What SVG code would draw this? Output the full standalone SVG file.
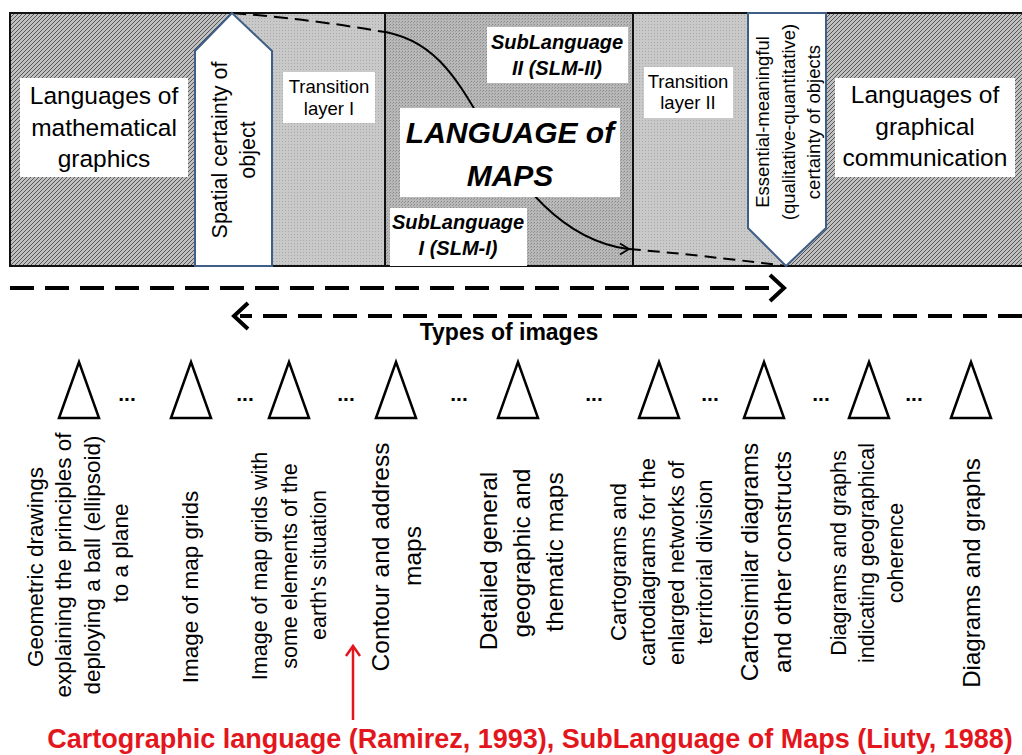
<svg xmlns="http://www.w3.org/2000/svg" width="1022" height="755" viewBox="0 0 1022 755">
  <defs>
    <!-- dense diagonal hatching for the outer language fields -->
    <pattern id="hatchDark" width="4" height="4" patternUnits="userSpaceOnUse">
      <rect width="4" height="4" fill="#c0c0c0"/>
      <path d="M-1,1 L1,-1 M0,4 L4,0 M3,5 L5,3" stroke="#505050" stroke-width="0.95"/>
    </pattern>
    <!-- fine stipple for the transition layers -->
    <pattern id="dotsLight" width="3" height="3" patternUnits="userSpaceOnUse">
      <rect width="3" height="3" fill="#c9c9c9"/>
      <rect width="1" height="1" fill="#a9a9a9"/>
    </pattern>
    <!-- slightly darker stipple for the map-language core -->
    <pattern id="dotsMid" width="3" height="3" patternUnits="userSpaceOnUse">
      <rect width="3" height="3" fill="#b8b8b8"/>
      <rect width="1" height="1" fill="#8a8a8a"/>
      <rect x="2" y="1" width="1" height="1" fill="#9c9c9c"/>
    </pattern>
    <style>
      .box { fill: #fff; }
      .t { font-family: "Liberation Sans", Arial, sans-serif; fill: #000; text-anchor: middle; }
      .bi { font-weight: bold; font-style: italic; }
      .b { font-weight: bold; }
      .shape { fill: #fff; stroke: #3f5f88; stroke-width: 2; }
      .tri { fill: #fff; stroke: #000; stroke-width: 2.5; stroke-linejoin: miter; }
      .big { stroke: #000; stroke-width: 4; fill: none; }
      .red { fill: #e3161e; }
    </style>
  </defs>

  <!-- band of languages -->
  <g id="band">
    <rect x="10" y="13" width="222" height="253" fill="url(#hatchDark)"/>
    <rect x="232" y="13" width="153" height="253" fill="url(#dotsLight)"/>
    <rect x="385" y="13" width="248" height="253" fill="url(#dotsMid)"/>
    <rect x="633" y="13" width="153" height="253" fill="url(#dotsLight)"/>
    <rect x="786" y="13" width="246" height="253" fill="url(#hatchDark)"/>
    <rect x="10" y="13" width="1022" height="253" fill="none" stroke="#111" stroke-width="2"/>
    <line x1="385" y1="13" x2="385" y2="266" stroke="#111" stroke-width="2"/>
    <line x1="633" y1="13" x2="633" y2="266" stroke="#111" stroke-width="2"/>
  </g>

  <g id="connectors" fill="none" stroke="#000">
    <!-- transition curve between the two certainty markers -->
    <path d="M232,13 Q310,19 378,31" stroke-width="2" stroke-dasharray="14 7"/>
    <path d="M378,31 C440,38 462,90 490,135 S560,240 628,249" stroke-width="2"/>
    <polyline points="620,243.5 629,249 620,254.5" stroke-width="1.8"/>
    <path d="M629,249 Q700,255 786,266" stroke-width="2" stroke-dasharray="12 7"/>
    <!-- direction arrows -->
    <line class="big" x1="10" y1="288" x2="778" y2="288" stroke-dasharray="24 11"/>
    <polyline class="big" points="770,275 784,288 770,301"/>
    <line class="big" x1="1022" y1="316" x2="240" y2="316" stroke-dasharray="24 11"/>
    <polyline class="big" points="248,303 234,316 248,329"/>
    <!-- pointer to the caption -->
    <line x1="353" y1="720" x2="353" y2="647" stroke="#e3161e" stroke-width="2.5"/>
    <polyline points="346,656 353,646 360,656" stroke="#e3161e" stroke-width="2.5"/>
  </g>

  <g id="math-graphics">
    <rect class="box" x="20" y="78" width="168" height="99"/>
    <text class="t" font-size="24.5"><tspan x="104" y="104">Languages of</tspan><tspan x="104" y="136">mathematical</tspan><tspan x="104" y="167">graphics</tspan></text>
  </g>

  <g id="transition-1">
    <rect class="box" x="283" y="72" width="92" height="51"/>
    <text class="t" font-size="18.5"><tspan x="329" y="93">Transition</tspan><tspan x="329" y="115">layer I</tspan></text>
  </g>

  <g id="sublanguage-2">
    <rect class="box" x="487" y="27" width="141" height="56"/>
    <text class="t bi" font-size="20"><tspan x="557" y="49">SubLanguage</tspan><tspan x="557" y="75">II (SLM-II)</tspan></text>
  </g>

  <g id="language-of-maps">
    <rect class="box" x="400" y="108" width="220" height="89"/>
    <text class="t bi" font-size="30"><tspan x="510" y="143">LANGUAGE of</tspan><tspan x="510" y="186">MAPS</tspan></text>
  </g>

  <g id="sublanguage-1">
    <rect class="box" x="390" y="208" width="137" height="58"/>
    <text class="t bi" font-size="20"><tspan x="458" y="229">SubLanguage</tspan><tspan x="458" y="255">I (SLM-I)</tspan></text>
  </g>

  <g id="transition-2">
    <rect class="box" x="644" y="67" width="89" height="51"/>
    <text class="t" font-size="18.5"><tspan x="688" y="88">Transition</tspan><tspan x="688" y="109">layer II</tspan></text>
  </g>

  <g id="graphical-communication">
    <rect class="box" x="835" y="78" width="180" height="99"/>
    <text class="t" font-size="24.5"><tspan x="925" y="103">Languages of</tspan><tspan x="925" y="135">graphical</tspan><tspan x="925" y="166">communication</tspan></text>
  </g>

  <g id="spatial-certainty">
    <polygon class="shape" points="232,13 272,51 272,266 195,266 195,51"/>
    <text class="t" font-size="21.5" transform="translate(227,150) rotate(-90)">Spatial certainty of</text>
    <text class="t" font-size="21.5" transform="translate(255,150) rotate(-90)">object</text>
  </g>

  <g id="meaningful-certainty">
    <polygon class="shape" points="748,13 826,13 826,228 786,266 748,228"/>
    <text class="t" font-size="18.5" transform="translate(769,122) rotate(-90)">Essential-meaningful</text>
    <text class="t" font-size="18.5" transform="translate(795,122) rotate(-90)">(qualitative-quantitative)</text>
    <text class="t" font-size="18.5" transform="translate(820,122) rotate(-90)">certainty of objects</text>
  </g>

  <g id="types-title">
    <text class="t b" font-size="23" x="509" y="340">Types of images</text>
  </g>

  <!-- ellipses between image types -->
  <g id="gaps" class="t b" font-size="21">
    <text x="127" y="401">...</text>
    <text x="245" y="401">...</text>
    <text x="346" y="401">...</text>
    <text x="459" y="401">...</text>
    <text x="594" y="401">...</text>
    <text x="710" y="401">...</text>
    <text x="821" y="401">...</text>
    <text x="914" y="401">...</text>
  </g>

  <g id="type-1">
    <polygon class="tri" points="59,418 79,362 99,418"/>
    <g class="t" font-size="22.5">
      <text transform="translate(43,567) rotate(-90)">Geometric drawings</text>
      <text transform="translate(71,565) rotate(-90)">explaining the principles of</text>
      <text transform="translate(100,565) rotate(-90)">deploying a ball (ellipsoid)</text>
      <text transform="translate(128,553) rotate(-90)">to a plane</text>
    </g>
  </g>

  <g id="type-2">
    <polygon class="tri" points="171,418 191,362 211,418"/>
    <text class="t" font-size="22.5" transform="translate(198,587) rotate(-90)">Image of map grids</text>
  </g>

  <g id="type-3">
    <polygon class="tri" points="269,418 289,362 309,418"/>
    <g class="t" font-size="21.5">
      <text transform="translate(267,566) rotate(-90)">Image of map grids with</text>
      <text transform="translate(297,566) rotate(-90)">some elements of the</text>
      <text transform="translate(326,565) rotate(-90)">earth's situation</text>
    </g>
  </g>

  <g id="type-4">
    <polygon class="tri" points="376,418 396,362 416,418"/>
    <g class="t" font-size="24.5">
      <text transform="translate(389,557) rotate(-90)">Contour and address</text>
      <text transform="translate(421,556) rotate(-90)">maps</text>
    </g>
  </g>

  <g id="type-5">
    <polygon class="tri" points="498,418 518,362 538,418"/>
    <g class="t" font-size="24.5">
      <text transform="translate(497,561) rotate(-90)">Detailed general</text>
      <text transform="translate(530,553) rotate(-90)">geographic and</text>
      <text transform="translate(563,552) rotate(-90)">thematic maps</text>
    </g>
  </g>

  <g id="type-6">
    <polygon class="tri" points="639,418 659,362 679,418"/>
    <g class="t" font-size="22">
      <text transform="translate(626,562) rotate(-90)">Cartograms and</text>
      <text transform="translate(655,562) rotate(-90)">cartodiagrams for the</text>
      <text transform="translate(684,563) rotate(-90)">enlarged networks of</text>
      <text transform="translate(712,562) rotate(-90)">territorial division</text>
    </g>
  </g>

  <g id="type-7">
    <polygon class="tri" points="744,418 764,362 784,418"/>
    <g class="t" font-size="24.5">
      <text transform="translate(758,562) rotate(-90)">Cartosimilar diagrams</text>
      <text transform="translate(791,562) rotate(-90)">and other constructs</text>
    </g>
  </g>

  <g id="type-8">
    <polygon class="tri" points="849,418 869,362 889,418"/>
    <g class="t" font-size="21.5">
      <text transform="translate(846,553) rotate(-90)">Diagrams and graphs</text>
      <text transform="translate(874,553) rotate(-90)">indicating geographical</text>
      <text transform="translate(903,553) rotate(-90)">coherence</text>
    </g>
  </g>

  <g id="type-9">
    <polygon class="tri" points="951,418 971,362 991,418"/>
    <text class="t" font-size="24" transform="translate(980,573) rotate(-90)">Diagrams and graphs</text>
  </g>

  <g id="caption">
    <text class="t b red" font-size="27" x="530" y="748">Cartographic language (Ramirez, 1993), SubLanguage of Maps (Liuty, 1988)</text>
  </g>
</svg>
